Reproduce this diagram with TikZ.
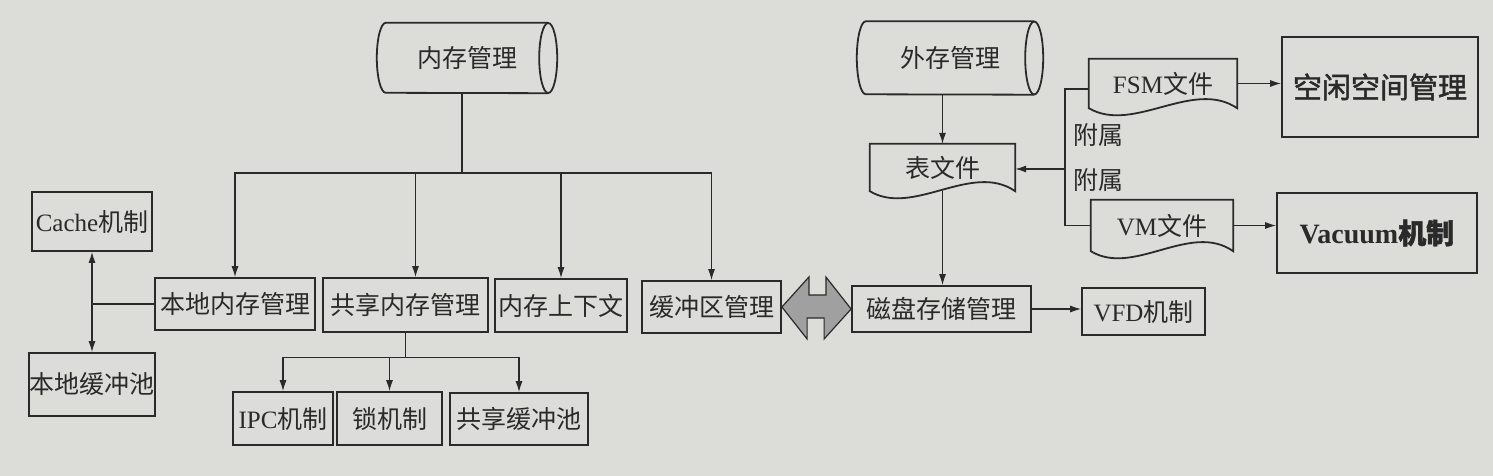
\documentclass[tikz,border=0pt]{standalone}
\usepackage{fontspec}
\setmainfont{Liberation Serif}
\newfontfamily\zhfont{Noto Sans CJK SC}
\newfontfamily\zhbold{Noto Sans CJK SC}[FakeBold=1.6]
\usetikzlibrary{arrows.meta,positioning,shapes.geometric,calc}
\definecolor{paper}{RGB}{220,220,216}
\definecolor{ink}{RGB}{42,42,42}
\definecolor{hatchgray}{RGB}{160,160,160}

\begin{document}
\begin{tikzpicture}[
    x=1pt, y=-1pt, >={Latex[length=11pt,width=7pt]},
    font=\fontsize{25}{30}\selectfont, text=ink,
    box/.style 2 args={draw=ink, line width=1.8pt, inner sep=0pt, minimum width=#1, minimum height=#2},
    doc/.style 2 args={inner sep=0pt, minimum width=#1, minimum height=#2},
    docline/.style={draw=ink, line width=1.8pt},
    flow/.style={->, draw=ink, line width=1.1pt},
    link/.style={draw=ink, line width=1.1pt},
    twin/.style={fill=hatchgray, draw=ink, line width=1.2pt, line join=miter},
    tag/.style={inner sep=2pt}
]

% ===== PAPER =====
\fill[paper] (0,0) rectangle (1493,476);
\path[use as bounding box] (0,0) rectangle (1493,476);

% outline of a document box (wavy bottom)
\def\docframe#1{\draw[docline] (#1.south east) -- (#1.north east) -- (#1.north west) -- (#1.south west)
  .. controls ($(#1.south west)!0.3!(#1.south east)+(0,26)$) and ($(#1.south west)!0.7!(#1.south east)+(0,-30)$) .. (#1.south east) -- cycle;}
% outline of a lying drum (#2 = half height)
\def\drumframe#1#2{\draw[docline] ($(#1.north east)+(-9,0)$) -- ($(#1.north west)+(9,0)$)
  arc[start angle=90, end angle=270, x radius=9pt, y radius=#2] -- ($(#1.south east)+(-9,0)$);
  \draw[docline] ($(#1.east)+(-9,0)$) ellipse[x radius=9pt, y radius=#2];}

% ===== TOP: STORAGE =====
\node[doc={180pt}{70pt}] (mem) at (467,58) {\zhfont 内存管理};
\node[doc={186pt}{73pt}] (ext) at (950,58) {\zhfont 外存管理};
\drumframe{mem}{35pt}
\drumframe{ext}{36.5pt}

% ===== MEMORY ROW =====
\node[box={160pt}{52pt}] (local)  at (235,304)   {\zhfont 本地内存管理};
\node[box={165pt}{54pt}] (shared) at (405.5,305) {\zhfont 共享内存管理};
\node[box={132pt}{53pt}] (ctx)    at (561,305.5) {\zhfont 内存上下文};
\node[box={139pt}{52pt}] (buf)    at (711.5,307) {\zhfont 缓冲区管理};

% ===== LEFT =====
\node[box={120pt}{59pt}] (cache) at (92,221.5) {Cache\zhfont 机制};
\node[box={126pt}{63pt}] (lpool) at (92,384.5) {\zhfont 本地缓冲池};

% ===== SHARED MEMORY PARTS =====
\node[box={100pt}{53pt}] (ipc)   at (283,418.5)   {IPC\zhfont 机制};
\node[box={105pt}{53pt}] (lock)  at (389.5,418.5) {\zhfont 锁机制};
\node[box={138pt}{52pt}] (spool) at (519,419)     {\zhfont 共享缓冲池};

% ===== DISK SIDE =====
\node[box={179pt}{46pt}] (disk) at (941.5,309)  {\zhfont 磁盘存储管理};
\node[box={123pt}{47pt}] (vfd)  at (1143.5,311.5) {VFD\zhfont 机制};
\node[doc={145pt}{47pt}] (tbl) at (942.5,167.5) {\zhfont 表文件};
\node[doc={148pt}{49pt}] (fsm) at (1163,83.5)   {FSM\zhfont 文件};
\node[doc={142pt}{51pt}] (vm)  at (1162,225.5)  {VM\zhfont 文件};
\docframe{tbl}
\docframe{fsm}
\docframe{vm}
\node[box={196pt}{100pt}, font=\fontsize{29}{34}\selectfont] (free) at (1380,87) {\zhbold 空闲空间管理};
\node[box={200pt}{80pt}, font=\fontsize{28}{34}\selectfont\bfseries] (vac) at (1377,233) {Vacuum\zhbold 机制};

% ===== MEMORY TREE =====
\coordinate (mbus) at (462,173);
\coordinate (drop2) at ([xshift=10pt]shared.north);
\draw[link] (mbus |- mem.south) -- (mbus);
\draw[flow] (mbus) -| (local.north);
\draw[flow] (mbus) -| (buf.north);
\draw[flow] (drop2 |- mbus) -- (drop2);
\draw[flow] (ctx.north |- mbus) -- (ctx.north);

\path (shared.south) ++(0,25) coordinate (sbus);
\draw[link] (shared.south) -- (sbus);
\draw[flow] (sbus) -| (ipc.north);
\draw[flow] (sbus) -| (spool.north);
\draw[flow] (lock.north |- sbus) -- (lock.north);

% local pool <-> cache
\draw[flow, <->] (cache.south) -- (lpool.north);
\draw[link] (local.west) -- (local.west -| cache.south);

% ===== BUFFER <=> DISK =====
\draw[twin] (buf.east) -- ++(27,-30) -- ++(0,18) -- ++(17,0) -- ++(0,-18) -- (disk.west)
  -- ++(-27,30) -- ++(0,-21) -- ++(-17,0) -- ++(0,21) -- cycle;

% ===== EXTERNAL STORAGE =====
\draw[flow] (tbl.north |- ext.south) -- (tbl.north);
\draw[flow] (tbl.south) -- (tbl.south |- disk.north);
\draw[flow] (disk.east) -- (disk.east -| vfd.west);
\draw[flow] (fsm.east) -- (fsm.east -| free.west);
\draw[flow] (vm.east) -- (vm.east -| vac.west);

\coordinate (att) at (1065,169);
\coordinate (fsmin) at ([yshift=-5.5pt]fsm.west);
\draw[link] (fsmin) -| node[tag, pos=0.79, right=6pt] {\zhfont 附属} (att);
\draw[link] (vm.west) -| node[tag, pos=0.9, right=6pt] {\zhfont 附属} (att);
\draw[flow] (att) -- (att -| tbl.east);

\end{tikzpicture}
\end{document}
